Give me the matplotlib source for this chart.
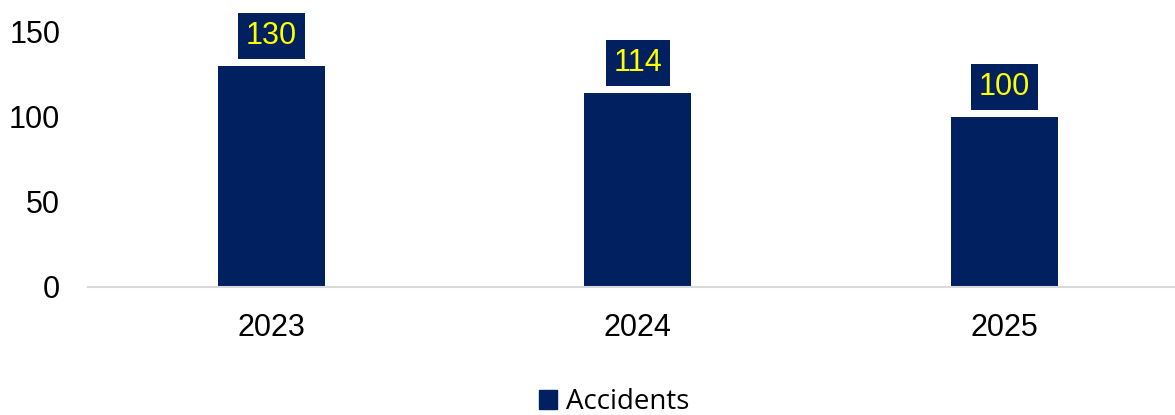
import matplotlib.pyplot as plt
from matplotlib.patches import Patch

years = ['2023', '2024', '2025']
accidents = [130, 114, 100]

navy = '#002060'

fig = plt.figure(figsize=(11.75, 4.15), dpi=100)
ax = fig.add_axes([88 / 1175, 128 / 415, 1 - 88 / 1175, 287 / 415])

x = range(len(years))
ax.bar(x, accidents, width=0.292, color=navy)

# value labels in dark boxes
for xi, v in zip(x, accidents):
    ax.annotate(str(v), (xi, v), xytext=(0, 21.5), textcoords='offset points',
                ha='center', va='center', fontsize=22, color='#ffff00',
                family='Liberation Sans',
                bbox=dict(boxstyle='square,pad=0.26', fc=navy, ec='none'))

ax.set_xlim(-0.5, 2.465)
ax.set_ylim(0, 168.8)
ax.set_yticks([0, 50, 100, 150])
ax.set_xticks(list(x))
ax.set_xticklabels(years)
for lab in ax.get_xticklabels() + ax.get_yticklabels():
    lab.set_family('Liberation Sans')
    lab.set_fontsize(22)
ax.tick_params(axis='y', length=0, pad=20)
ax.tick_params(axis='x', length=0, pad=19)

for s in ['top', 'right', 'left']:
    ax.spines[s].set_visible(False)
ax.spines['bottom'].set_color('#d9d9d9')
ax.spines['bottom'].set_linewidth(1.5)

fig.legend(handles=[Patch(color=navy, label='Accidents')], loc='center',
           bbox_to_anchor=(614 / 1175, 13 / 415), frameon=False,
           prop={'family': 'Open Sans', 'size': 20},
           handlelength=0.65, handleheight=0.65, handletextpad=0.3)

fig.savefig('out.png', dpi=100)
